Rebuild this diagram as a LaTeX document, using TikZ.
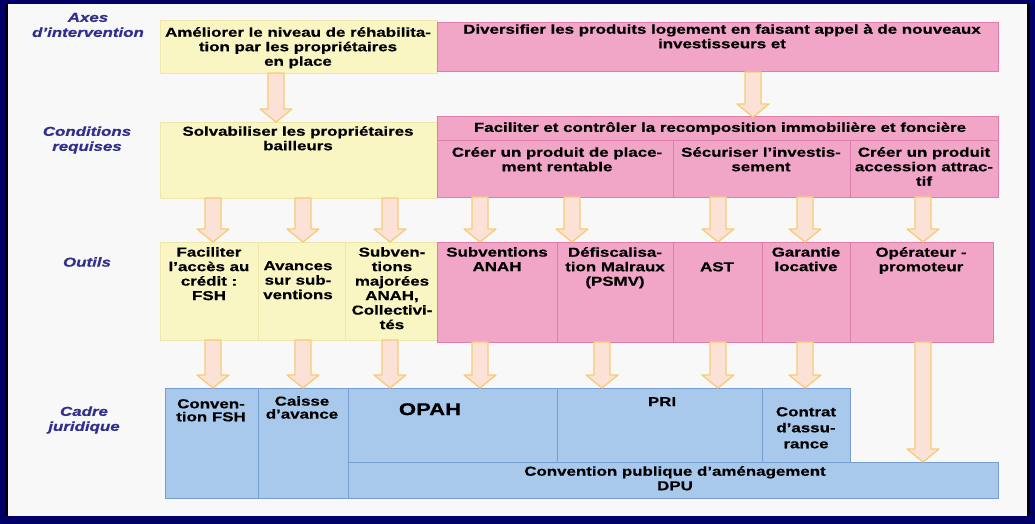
\documentclass[tikz,border=0pt]{standalone}
\usepackage{fontspec}
\setmainfont{Liberation Sans}[FakeStretch=1.3, BoldFeatures={FakeBold=0.6}, BoldItalicFeatures={FakeBold=0.6}]
\usetikzlibrary{fit,calc}

\definecolor{navy}{RGB}{0,0,102}
\definecolor{fond}{RGB}{248,248,248}
\definecolor{jaune}{RGB}{249,246,196}
\definecolor{jauneb}{RGB}{238,230,170}
\definecolor{rose}{RGB}{241,166,200}
\definecolor{roseb}{RGB}{224,124,168}
\definecolor{bleu}{RGB}{168,200,236}
\definecolor{bleub}{RGB}{118,158,208}
\definecolor{flechef}{RGB}{252,226,214}
\definecolor{flecheb}{RGB}{246,204,118}
\definecolor{titre}{RGB}{48,48,140}

\newcommand{\fleche}[3]{%
\path[bloc] let \p1=(#2.south), \p2=(#3.north) in
 (#1pt-8pt,\y1) -- (#1pt+8pt,\y1) -- (#1pt+8pt,\y2+13pt) -- (#1pt+16pt,\y2+13pt)
 -- (#1pt,\y2) -- (#1pt-16pt,\y2+13pt) -- (#1pt-8pt,\y2+13pt) -- cycle;}

\begin{document}
\begin{tikzpicture}[x=1pt,y=-1pt,
  ybox/.style={fill=jaune, draw=jauneb, line width=0.6pt, inner sep=0pt, outer sep=0pt},
  pbox/.style={fill=rose, draw=roseb, line width=1pt, inner sep=0pt, outer sep=0pt},
  bbox/.style={fill=bleu, draw=bleub, line width=1pt, inner sep=0pt, outer sep=0pt},
  txt/.style={align=center, anchor=north, inner sep=0pt, font=\bfseries\fontsize{13}{14.5}\selectfont},
  lab/.style={align=center, inner sep=0pt, text=titre, font=\bfseries\itshape\fontsize{13}{15}\selectfont},
  bloc/.style={fill=flechef, draw=flecheb, line width=1.3pt, line join=round}]
\useasboundingbox (0,0) rectangle (1035,524);
\fill[navy] (0,0) rectangle (1035,524);
\fill[black] (5,4) rectangle (1030,516);
\fill[fond] (8,4) rectangle (1027,516);

\node[lab] (lab1) at (88,25) {Axes\\d'intervention};
\node[lab] (lab2) at (87,140) {Conditions\\requises};
\node[lab] (lab3) at (87,262) {Outils};
\node[lab] (lab4) at (84,420) {Cadre\\juridique};

\node[ybox, fit={(160,20) (437,73)}] (axe1) {};
\node[pbox, fit={(437,23) (998,72)}] (axe2) {};

\node[ybox, fit={(160,122) (437,198)}] (cond1) {};
\node[pbox, fit={(437,117) (998,140)}] (cond2) {};
\node[pbox, fit={(437,140) (673,197)}] (c2a) {};
\node[pbox, fit={(673,140) (850,197)}] (c2b) {};
\node[pbox, fit={(850,140) (998,197)}] (c2c) {};

\node[ybox, fit={(160,242) (258,340)}] (o1) {};
\node[ybox, fit={(258,242) (345,340)}] (o2) {};
\node[ybox, fit={(345,242) (437,340)}] (o3) {};
\node[pbox, fit={(437,242) (557,342)}] (o4) {};
\node[pbox, fit={(557,242) (673,342)}] (o5) {};
\node[pbox, fit={(673,242) (762,342)}] (o6) {};
\node[pbox, fit={(762,242) (850,342)}] (o7) {};
\node[pbox, fit={(850,242) (993,342)}] (o8) {};

\node[bbox, fit={(165,388) (258,498)}] (j1) {};
\node[bbox, fit={(258,388) (348,498)}] (j2) {};
\node[bbox, fit={(348,388) (557,462)}] (j3) {};
\node[bbox, fit={(557,388) (762,462)}] (j4) {};
\node[bbox, fit={(762,388) (850,462)}] (j5) {};
\node[bbox, fit={(348,462) (998,498)}] (j6) {};

\node[txt] (t-axe1) at (298,27) {Améliorer le niveau de réhabilita-\\tion par les propriétaires\\en place};
\node[txt] (t-axe2) at (722,24) {Diversifier les produits logement en faisant appel à de nouveaux\\investisseurs et};
\node[txt] (t-cond1) at (298,126) {Solvabiliser les propriétaires\\bailleurs};
\node[txt] (t-cond2) at (720,122) {Faciliter et contrôler la recomposition immobilière et foncière};
\node[txt] (t-c2a) at (557,147) {Créer un produit de place-\\ment rentable};
\node[txt] (t-c2b) at (761,147) {Sécuriser l'investis-\\sement};
\node[txt] (t-c2c) at (924,147) {Créer un produit\\accession attrac-\\tif};

\node[txt] (t-o1) at (209,247) {Faciliter\\l'accès au\\crédit :\\FSH};
\node[txt] (t-o2) at (298,261) {Avances\\sur sub-\\ventions};
\node[txt] (t-o3) at (392,247) {Subven-\\tions\\majorées\\ANAH,\\Collectivi-\\tés};
\node[txt] (t-o4) at (497,247) {Subventions\\ANAH};
\node[txt] (t-o5) at (615,247) {Défiscalisa-\\tion Malraux\\(PSMV)};
\node[txt] (t-o6) at (717,262) {AST};
\node[txt] (t-o7) at (806,247) {Garantie\\locative};
\node[txt] (t-o8) at (921,247) {Opérateur -\\promoteur};

\node[txt, font=\bfseries\fontsize{13}{13}\selectfont] (t-j1) at (211,399) {Conven-\\tion FSH};
\node[txt, font=\bfseries\fontsize{13}{13}\selectfont] (t-j2) at (302,396) {Caisse\\d'avance};
\node[txt, font=\bfseries\fontsize{17}{18}\selectfont] (t-j3) at (430,403) {OPAH};
\node[txt] (t-j4) at (662,397) {PRI};
\node[txt, font=\bfseries\fontsize{13}{16}\selectfont] (t-j5) at (806,407) {Contrat\\d'assu-\\rance};
\node[txt] (t-j6) at (675,466) {Convention publique d'aménagement\\DPU};

\fleche{276}{axe1}{cond1}
\fleche{753}{axe2}{cond2}

\fleche{213}{cond1}{o1}
\fleche{303}{cond1}{o2}
\fleche{390}{cond1}{o3}
\fleche{480}{c2a}{o4}
\fleche{572}{c2a}{o5}
\fleche{718}{c2b}{o6}
\fleche{805}{c2b}{o7}
\fleche{923}{c2c}{o8}

\fleche{213}{o1}{j1}
\fleche{303}{o2}{j2}
\fleche{390}{o3}{j3}
\fleche{480}{o4}{j3}
\fleche{602}{o5}{j4}
\fleche{718}{o6}{j4}
\fleche{805}{o7}{j5}
\fleche{923}{o8}{j6}

\end{tikzpicture}
\end{document}
